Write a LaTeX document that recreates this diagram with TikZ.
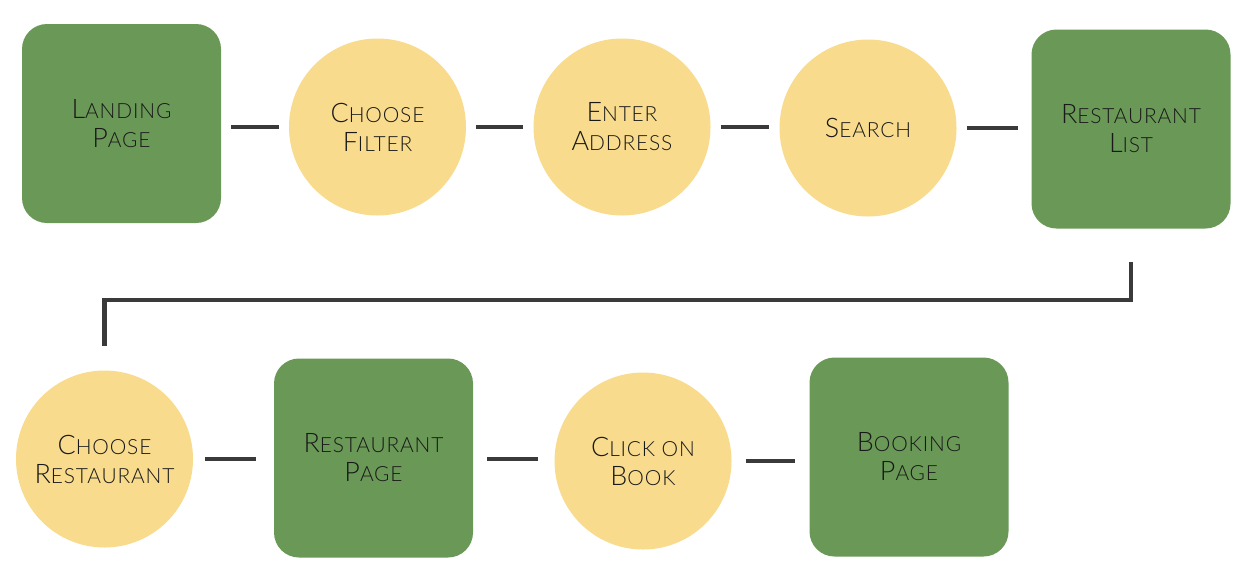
\documentclass[tikz,border=0pt]{standalone}
\usepackage{fontspec}
\setmainfont{Lato}[UprightFont=* Light]
\definecolor{pagegreen}{HTML}{6A9857}
\definecolor{stepyellow}{HTML}{F8DB8C}
\definecolor{linegray}{HTML}{3A3A3A}
\newcommand\sm[1]{{\fontsize{11.9}{10}\selectfont\MakeUppercase{#1}}}
\begin{document}
\begin{tikzpicture}[
        pagebox/.style={fill=pagegreen, rounded corners=0.5cm, minimum width=3.98cm, minimum height=3.98cm, align=center, text=black!90},
        stepcircle/.style={fill=stepyellow, circle, minimum size=3.54cm, inner sep=0pt, align=center, text=black!90},
        link/.style={draw=linegray, line width=2.3pt, shorten <=0.2cm, shorten >=0.2cm},
        font={\fontsize{15.3}{16.5}\selectfont\addfontfeature{LetterSpace=4}}]
        \useasboundingbox (0,0) rectangle (25.04,-11.68);

        % top row
        \node[pagebox] (landing) at (2.43,-2.47) {L\sm{anding}\\P\sm{age}};
        \node[stepcircle] (filter) at (7.55,-2.54) {C\sm{hoose}\\F\sm{ilter}};
        \node[stepcircle] (address) at (12.44,-2.54) {E\sm{nter}\\A\sm{ddress}};
        \node[stepcircle] (search) at (17.36,-2.56) {S\sm{earch}};
        \node[pagebox] (list) at (22.62,-2.58) {R\sm{estaurant}\\L\sm{ist}};

        % bottom row
        \node[stepcircle] (chooserest) at (2.09,-9.18) {C\sm{hoose}\\R\sm{estaurant}};
        \node[pagebox] (restpage) at (7.47,-9.16) {R\sm{estaurant}\\P\sm{age}};
        \node[stepcircle] (clickbook) at (12.86,-9.22) {C\sm{lick on}\\B\sm{ook}};
        \node[pagebox] (booking) at (18.18,-9.14) {B\sm{ooking}\\P\sm{age}};

        \draw[link] (landing.east |- filter) -- (filter.west);
        \draw[link] (filter.east) -- (address.west);
        \draw[link] (address.east) -- (search.west |- address);
        \draw[link, shorten >=0.26cm] (search.east) -- (list.west |- search);
        \draw[link, line join=miter, shorten <=0.66cm, shorten >=0.48cm] (list.south) -- ++(0,-1.42) -| (chooserest.north);
        \draw[link, shorten <=0.24cm, shorten >=0.36cm] (chooserest.east) -- (restpage.west |- chooserest);
        \draw[link, shorten <=0.28cm, shorten >=0.32cm] (restpage.east |- chooserest) -- (clickbook.west |- chooserest);
        \draw[link, shorten <=0.28cm, shorten >=0.28cm] (clickbook.east) -- (booking.west |- clickbook);
\end{tikzpicture}
\end{document}
